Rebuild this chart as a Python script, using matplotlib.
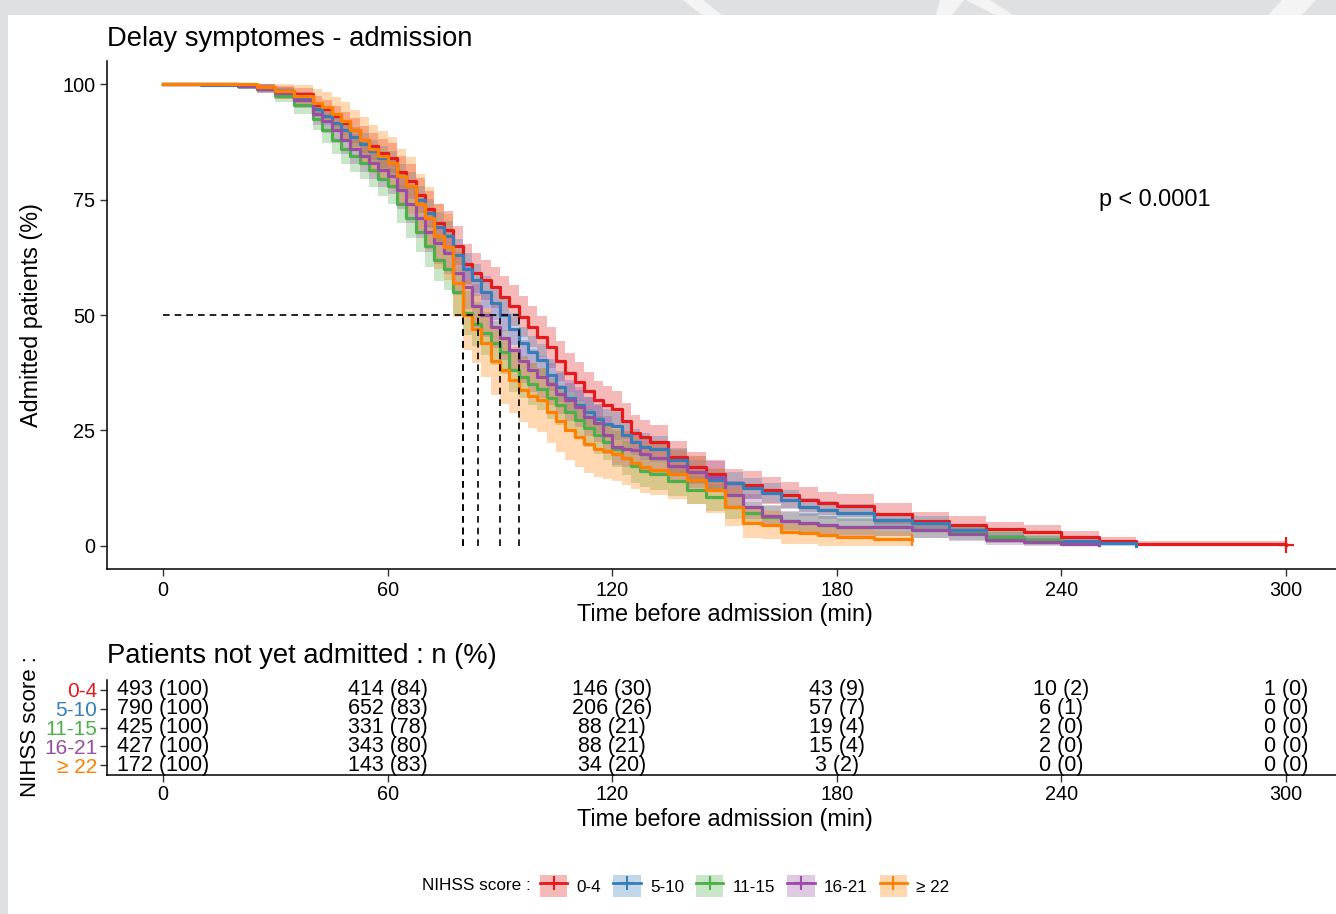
import numpy as np
import matplotlib.pyplot as plt
from matplotlib.patches import Rectangle, Polygon, Patch
from matplotlib.lines import Line2D

plt.rcParams['font.family'] = ['Liberation Sans', 'DejaVu Sans']

# survival curves (% not yet admitted)
times = [0, 10, 20, 25, 30, 35,
         40, 42.5, 45, 47.5, 50, 52.5, 55, 57.5, 60, 62.5, 65, 67.5, 70, 72.5, 75, 77.5,
         80, 82.5, 85, 87.5, 90, 92.5, 95, 97.5, 100, 102.5, 105, 107.5, 110, 112.5,
         115, 117.5, 120, 122.5, 125, 127.5, 130,
         135, 140, 145, 150, 155, 160, 165, 170, 175, 180,
         190, 200, 210, 220, 230, 240, 250, 260, 300]

groups = ['0-4', '5-10', '11-15', '16-21', '≥ 22']
colors = ['#E41A1C', '#377EB8', '#4DAF4A', '#984EA3', '#FF7F00']
n_start = [493, 790, 425, 427, 172]

surv_04 = [100, 100, 99.8, 99.4, 98.6, 97.8,
           95.5, 94.5, 93, 91.5, 90, 88, 86.5, 85, 84, 81, 79, 76, 73, 70, 68.4, 65,
           61, 59, 57.6, 56, 54, 52, 49.6, 47.5, 45.3, 43, 40, 37.5, 35.5, 33.5,
           31.6, 30.5, 29.6, 27, 24.5, 23.5, 22.5,
           19.3, 17, 15.5, 13.6, 13.2, 12, 11, 10, 9.2, 8.7,
           7, 5.4, 4.6, 3.6, 3, 2, 1.0, 0.4, 0.2]
surv_510 = [100, 99.9, 99.5, 99, 98.3, 97,
            94.5, 93, 91.5, 90, 88.5, 87, 85.5, 84, 83, 80, 78, 75, 72, 69, 67, 63,
            60, 57.5, 55, 52.5, 50, 47, 44, 42, 40.3, 37, 34.5, 32, 30.5, 29,
            27.5, 26.5, 26, 24, 22.5, 21.5, 21,
            18.5, 16, 14.3, 13.6, 12.5, 11.4, 10, 8.5, 7.8, 7.2,
            5.6, 4.9, 3.5, 2, 1.3, 1.0, 0.6, 0]
surv_1115 = [100, 100, 99.5, 99, 97.5, 95.5,
             92.5, 90, 88, 86, 84.5, 83, 81.4, 79.5, 78, 74, 71, 68, 65, 62, 60, 55,
             50.4, 48, 46, 44, 42, 38, 36.5, 35, 34, 32, 30.5, 29, 27.3, 25.5,
             24, 22.5, 21, 19, 17.2, 16.3, 15.5,
             14, 12.1, 10.5, 8.5, 7.1, 6.3, 5.3, 4.9, 4.5, 4.2,
             4, 3.5, 2.8, 2, 1.3, 0.5, 0.2]
surv_1621 = [100, 100, 99.6, 99, 98, 96.5,
             93.5, 92, 90, 88, 86, 84.5, 83, 81.5, 80, 77, 74, 71, 68, 65.5, 63.4, 59,
             56, 52, 50, 47.5, 45, 42.5, 40, 38, 36.5, 35, 33, 31.5, 30, 28,
             26.6, 24, 21.5, 21, 20.8, 20, 19,
             17.2, 16, 15, 11, 8.5, 6.5, 5.5, 5, 4.5, 4,
             4, 3.5, 2.5, 1.3, 0.8, 0.5, 0.3]
surv_22 = [100, 100, 100, 99.4, 98.5, 97.5,
           96, 95, 93.5, 92, 90, 88, 86, 84.5, 83, 80, 78, 74, 71, 67, 64.8, 57,
           50, 47, 44, 40, 38, 36, 33.8, 32.5, 31.6, 29, 27, 25, 23.5, 22,
           21, 20.5, 20, 19, 18, 17, 16.5,
           15.5, 14.3, 12.1, 8.5, 5, 4.5, 3, 2.8, 2.3, 2,
           1.5, 1.2]
curves = [surv_04, surv_510, surv_1115, surv_1621, surv_22]

medians = [95, 90, 80, 84, 80]

# number at risk table
risk_times = [0, 60, 120, 180, 240, 300]
risk_n = [[493, 414, 146, 43, 10, 1],
          [790, 652, 206, 57, 6, 0],
          [425, 331, 88, 19, 2, 0],
          [427, 343, 88, 15, 2, 0],
          [172, 143, 34, 3, 0, 0]]
risk_pct = [[100, 84, 30, 9, 2, 0],
            [100, 83, 26, 7, 1, 0],
            [100, 78, 21, 4, 0, 0],
            [100, 80, 21, 4, 0, 0],
            [100, 83, 20, 2, 0, 0]]

W, H = 1336, 914
fig = plt.figure(figsize=(W / 100, H / 100), dpi=100)
fig.patch.set_facecolor('#dfe0e2')

def px(x0, y0, x1, y1):
    return [x0 / W, 1 - y1 / H, (x1 - x0) / W, (y1 - y0) / H]

# decorative stripes in the gray border
for pts in [[(683, 0), (703, 0), (722, 15), (702, 15)],
            [(940, 0), (964, 0), (952, 15), (936, 15)],
            [(966, 0), (990, 0), (1013, 15), (995, 15)],
            [(1282, 0), (1316, 0), (1302, 15), (1268, 15)]]:
    fig.patches.append(Polygon([(x / W, 1 - y / H) for x, y in pts], closed=True,
                               transform=fig.transFigure, color='#f4f4f5', lw=0,
                               zorder=-3))
fig.patches.append(Rectangle((8 / W, 0), 1 - 8 / W, 1 - 15 / H, transform=fig.transFigure,
                             color='white', lw=0, zorder=-2))

# ---- main survival plot
ax = fig.add_axes(px(107, 61, 1342, 569))
ax.set_facecolor('none')
for name, col, n0, s in zip(groups, colors, n_start, curves):
    t = np.array(times[:len(s)], dtype=float)
    p = np.array(s) / 100
    # 95% band (Greenwood, no censoring)
    se = 1.96 * np.sqrt(p * (1 - p) / n0)
    lo = np.clip(p - se, 0, 1) * 100
    hi = np.clip(p + se, 0, 1) * 100
    ax.fill_between(t, lo, hi, step='post', color=col, alpha=0.3, lw=0)
    ax.step(t, p * 100, where='post', color=col, lw=2.3)

ax.plot([300], [surv_04[-1]], marker='+', ms=11, mew=1.6, color=colors[0])
ax.plot([times[len(surv_22) - 1]], [surv_22[-1]], marker='|', ms=9, mew=1.6, color=colors[4])

ax.plot([0, max(medians)], [50, 50], ls=(0, (4, 3)), color='black', lw=1.2)
for m in medians:
    ax.plot([m, m], [0, 50], ls=(0, (4, 3)), color='black', lw=1.2)

ax.text(250, 75, 'p < 0.0001', fontsize=16.8, va='center', ha='left')
ax.set_xlim(-15, 315)
ax.set_ylim(-5, 105)
ax.set_xticks(risk_times)
ax.set_yticks([0, 25, 50, 75, 100])
ax.tick_params(labelsize=14.3, length=5, width=1, color='#333333', labelcolor='black')
for sp in ['top', 'right']:
    ax.spines[sp].set_visible(False)
for sp in ['left', 'bottom']:
    ax.spines[sp].set_linewidth(1.1)
ax.set_xlabel('Time before admission (min)', fontsize=16.8, labelpad=2)
ax.set_ylabel('Admitted patients (%)', fontsize=16.8, labelpad=14)
ax.set_title('Delay symptomes - admission', fontsize=19.7, loc='left', pad=11)

# ---- risk table
tb = fig.add_axes(px(107, 680, 1342, 775))
tb.set_facecolor('none')
tb.set_xlim(-15, 315)
tb.set_ylim(0.47, 5.53)
for i, (nn, pp) in enumerate(zip(risk_n, risk_pct)):
    for t, a, b in zip(risk_times, nn, pp):
        tb.text(t, 5 - i, f'{a} ({b})', ha='center', va='center', fontsize=15.5)
tb.set_xticks(risk_times)
tb.set_yticks([5, 4, 3, 2, 1])
tb.set_yticklabels(groups)
for lab, col in zip(tb.get_yticklabels(), colors):
    lab.set_color(col)
tb.tick_params(labelsize=15, length=5, width=1, color='#333333', pad=2)
tb.tick_params(axis='x', labelsize=14.3, labelcolor='black')
for sp in ['top', 'right']:
    tb.spines[sp].set_visible(False)
tb.spines['bottom'].set_linewidth(1.1)
tb.spines['left'].set_linewidth(1.1)
tb.set_xlabel('Time before admission (min)', fontsize=16.8, labelpad=3)
tb.set_title('Patients not yet admitted : n (%)', fontsize=19.7, loc='left', pad=12)
fig.text(30 / W, 1 - 727 / H, 'NIHSS score :', rotation=90, fontsize=16,
         ha='center', va='center')

# ---- legend
handles = [(Patch(facecolor=c, alpha=0.3, lw=0),
            Line2D([], [], color=c, lw=2, marker='+', ms=10, mew=1.5)) for c in colors]
fig.text(422 / W, 1 - 886 / H, 'NIHSS score :', fontsize=12.3, va='center', ha='left')
fig.legend(handles, groups, loc='center left', bbox_to_anchor=(540 / W, 1 - 886 / H),
           ncol=5, frameon=False, fontsize=12.3, handlelength=1.6, handleheight=1.6,
           columnspacing=0.7, handletextpad=0.55, borderaxespad=0, borderpad=0)

fig.savefig('out.png', dpi=100, facecolor=fig.get_facecolor())
